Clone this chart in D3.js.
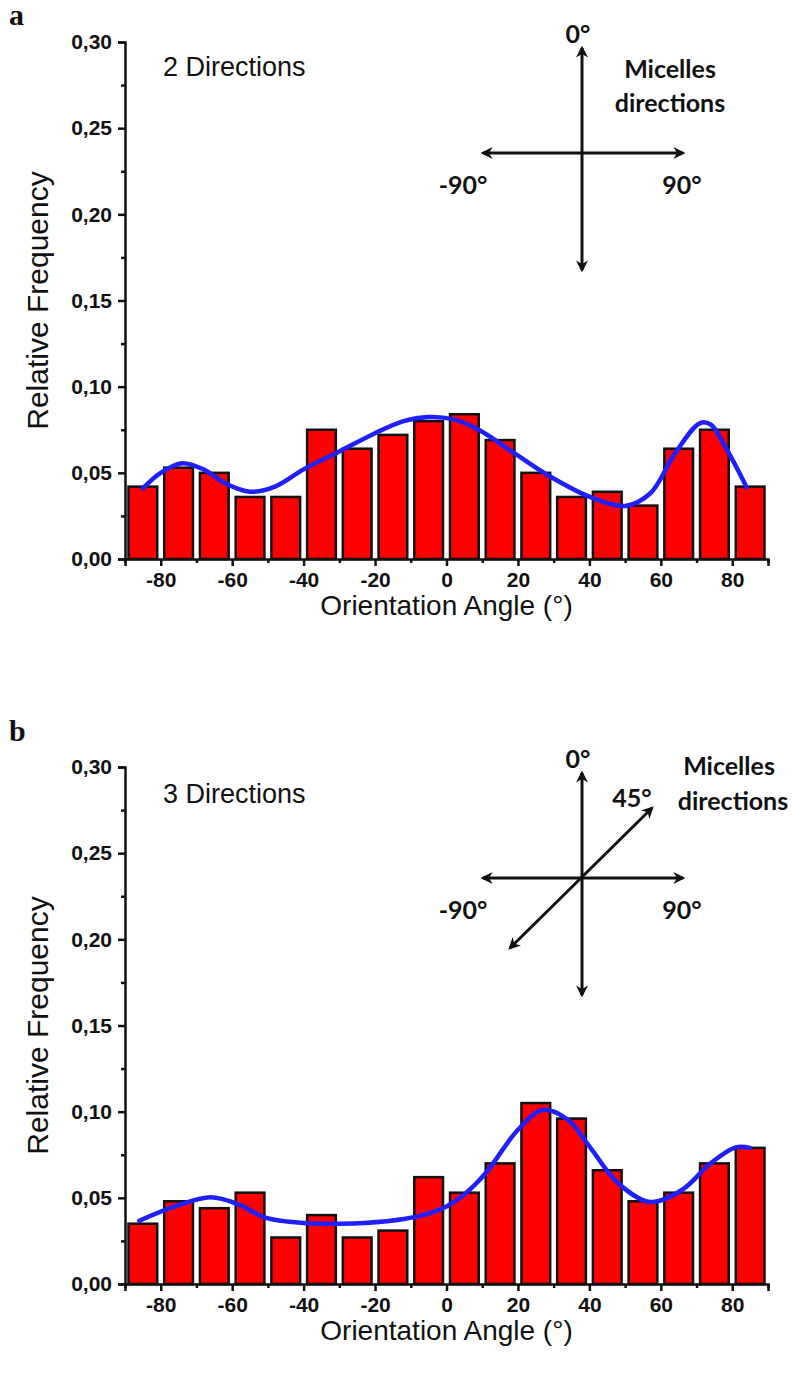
<!DOCTYPE html>
<html><head><meta charset="utf-8">
<script src="https://cdn.jsdelivr.net/npm/d3@7"></script>
<style>body{margin:0;background:#fff}</style>
</head><body><svg id="c" width="794" height="1374" xmlns="http://www.w3.org/2000/svg"></svg>
<script>
// ---- data ----
const binStarts = [-90,-80,-70,-60,-50,-40,-30,-20,-10,0,10,20,30,40,50,60,70,80];
const binWidth = 10;
const freqA = [0.042,0.053,0.050,0.036,0.036,0.075,0.064,0.072,0.080,0.084,0.069,0.050,0.036,0.039,0.031,0.064,0.075,0.042];
const freqB = [0.035,0.048,0.044,0.053,0.027,0.040,0.027,0.031,0.062,0.053,0.070,0.105,0.096,0.066,0.048,0.053,0.070,0.079];
const fitAngleA = [-85,-80,-74,-68,-62,-55,-48,-40,-30,-20,-12,-5,2,9,19,29,40,50,57,64,71,74,78,84];
const fitValueA = [0.041,0.050,0.0556,0.052,0.044,0.039,0.042,0.052,0.0624,0.073,0.080,0.0824,0.081,0.075,0.0614,0.0479,0.0362,0.0308,0.038,0.0614,0.0789,0.078,0.0653,0.0417];
const fitAngleB = [-86,-76,-66,-58,-51,-40,-30,-23,-12,-4,0,5,11,20,27,34,40,48,57,66,74,81,85];
const fitValueB = [0.0367,0.045,0.0503,0.046,0.0387,0.0354,0.0350,0.0354,0.0377,0.0416,0.045,0.052,0.0644,0.0895,0.101,0.0953,0.0799,0.0586,0.0476,0.0547,0.0702,0.0793,0.079];
const xTicksMajor = [-80,-60,-40,-20,0,20,40,60,80];
const xTicksMinor = [-90,-70,-50,-30,-10,10,30,50,70,90];
const yTicksMajor = [0,0.05,0.10,0.15,0.20,0.25,0.30];
const yTicksMinor = [0.025,0.075,0.125,0.175,0.225,0.275];
const panelLetters = ["a","b"];
const panelTitles = ["2 Directions","3 Directions"];
const xTitle = "Orientation Angle (°)";
const yTitle = "Relative Frequency";

const svg = d3.select("#c");
const defs = svg.append("defs");
defs.append("marker").attr("id","ah").attr("viewBox","0 0 10 10").attr("refX",8).attr("refY",5)
  .attr("markerWidth",4).attr("markerHeight",4).attr("orient","auto-start-reverse").attr("markerUnits","strokeWidth")
  .append("path").attr("d","M0,0 L10,5 L0,10 L3,5 Z").attr("fill","#111");

const panels = [
  {oy:0, freq:freqA, fa:fitAngleA, fv:fitValueA, title:panelTitles[0], letter:panelLetters[0], diag:false},
  {oy:725, freq:freqB, fa:fitAngleB, fv:fitValueB, title:panelTitles[1], letter:panelLetters[1], diag:true}
];

panels.forEach(p => {
  const g = svg.append("g").attr("transform",`translate(0,${p.oy})`);
  const x = d3.scaleLinear().domain([-90,90]).range([125,768]);
  const y = d3.scaleLinear().domain([0,0.30]).range([559,42]);

  // bars
  g.append("g").selectAll("rect").data(binStarts).join("rect")
    .attr("x", d => x(d)+3.5)
    .attr("width", d => x(d+binWidth)-x(d)-7)
    .attr("y", (d,i) => y(p.freq[i]))
    .attr("height", (d,i) => y(0)-y(p.freq[i]))
    .attr("fill","#ff0000").attr("stroke","#111").attr("stroke-width",2.5);

  // fit curve
  const pts = p.fa.map((a,i)=>[a,p.fv[i]]);
  g.append("path").datum(pts)
    .attr("d", d3.line().x(d=>x(d[0])).y(d=>y(d[1])).curve(d3.curveCatmullRom.alpha(0.5)))
    .attr("fill","none").attr("stroke","#1f1fff").attr("stroke-width",4.5).attr("stroke-linecap","round");

  // axes
  g.append("g").attr("transform",`translate(0,${y(0)})`)
    .call(d3.axisBottom(x).tickValues(xTicksMajor).tickSize(7).tickPadding(6).tickFormat(d=>String(d)));
  g.append("g").attr("transform",`translate(0,${y(0)})`)
    .call(d3.axisBottom(x).tickValues(xTicksMinor).tickSize(4).tickFormat(""))
    .call(s=>s.select(".domain").remove());
  g.append("g").attr("transform",`translate(${x(-90)},0)`)
    .call(d3.axisLeft(y).tickValues(yTicksMajor).tickSize(7).tickPadding(6).tickFormat(d=>d.toFixed(2).replace(".",",")));
  g.append("g").attr("transform",`translate(${x(-90)},0)`)
    .call(d3.axisLeft(y).tickValues(yTicksMinor).tickSize(4).tickFormat(""))
    .call(s=>s.select(".domain").remove());
  g.selectAll(".domain").attr("stroke","#111").attr("stroke-width",2.5);
  g.selectAll(".tick line").attr("stroke","#111").attr("stroke-width",2.5);
  g.selectAll(".tick text").attr("font-family","Liberation Sans, Arial, sans-serif")
    .attr("font-size",21).attr("font-weight","bold").attr("fill","#111");

  // titles
  g.append("text").attr("x",(x(-90)+x(90))/2).attr("y",615).attr("text-anchor","middle")
    .attr("font-family","Liberation Sans, Arial, sans-serif").attr("font-size",28).attr("fill","#111").text(xTitle);
  g.append("text").attr("transform",`translate(48,${(y(0)+y(0.3))/2}) rotate(-90)`).attr("text-anchor","middle")
    .attr("font-family","Liberation Sans, Arial, sans-serif").attr("font-size",30).attr("fill","#111").text(yTitle);
  g.append("text").attr("x",163).attr("y",p.diag?78:76)
    .attr("font-family","Liberation Sans, Arial, sans-serif").attr("font-size",27).attr("fill","#111").text(p.title);
  g.append("text").attr("x",9).attr("y",p.diag?16:25)
    .attr("font-family","Liberation Serif, Times New Roman, serif").attr("font-weight","bold").attr("font-size",30).attr("fill","#111").text(p.letter);

  // direction diagram
  const dg = g.append("g");
  const f = "Lato, Noto Sans, sans-serif";
  const line = (x1,y1,x2,y2) => dg.append("line").attr("x1",x1).attr("y1",y1).attr("x2",x2).attr("y2",y2)
     .attr("stroke","#111").attr("stroke-width",3).attr("marker-end","url(#ah)").attr("marker-start","url(#ah)");
  line(582,48,582,270);
  line(483,153,683,153);
  if (p.diag) line(510,223,652,83);
  const lab = (t,xx,yy) => dg.append("text").attr("x",xx).attr("y",yy).attr("text-anchor","middle")
     .attr("font-family",f).attr("font-weight","bold").attr("font-size",25).attr("fill","#111").text(t);
  lab("0°",578,43);
  lab("-90°",463,194);
  lab("90°",682,194);
  if (p.diag) {
    lab("45°",632,82);
    lab("Micelles",729,50);
    lab("directions",733,85);
  } else {
    lab("Micelles",670,78);
    lab("directions",670,112);
  }
});
</script>
</body></html>
